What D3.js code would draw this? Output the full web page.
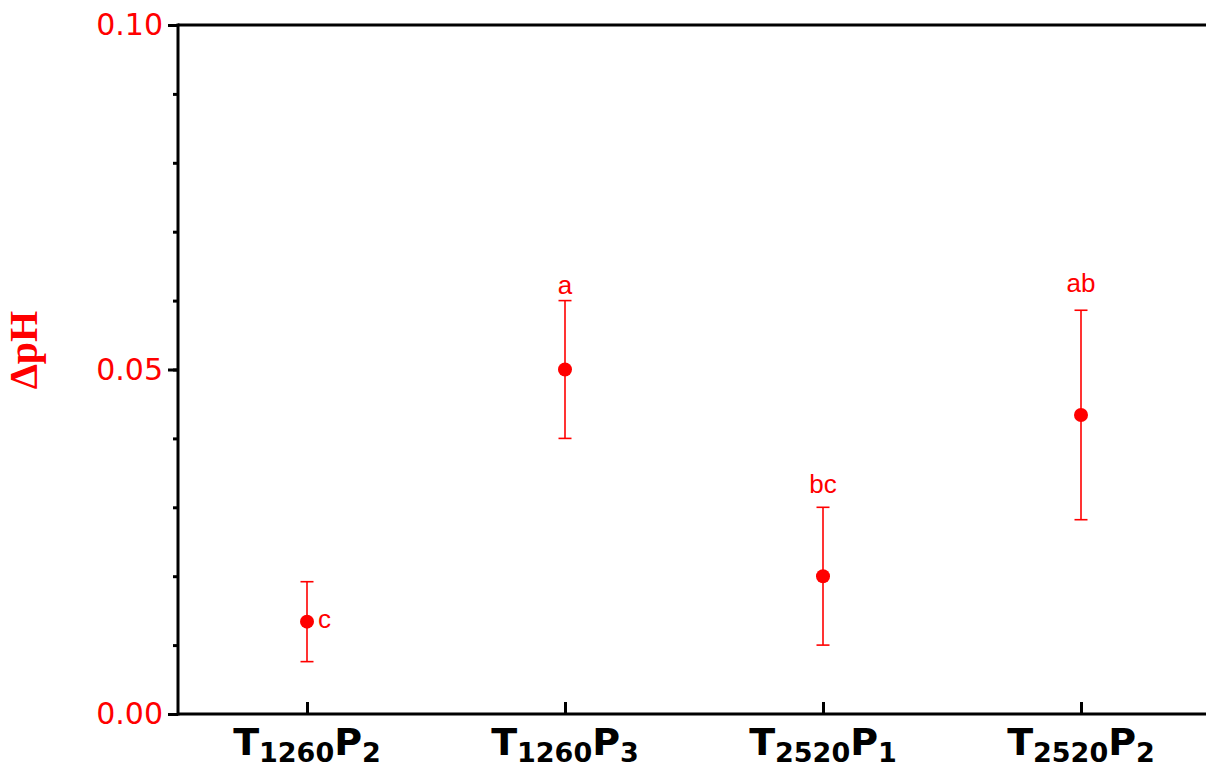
<!DOCTYPE html>
<html><head><meta charset="utf-8">
<script src="https://cdn.jsdelivr.net/npm/d3@7"></script>
<style>body{margin:0;background:#fff}svg{display:block}</style>
</head><body>
<svg id="chart" width="1206" height="767"></svg>
<script>
const categories = [
  {T:"T", s1:"1260", P:"P", s2:"2"},
  {T:"T", s1:"1260", P:"P", s2:"3"},
  {T:"T", s1:"2520", P:"P", s2:"1"},
  {T:"T", s1:"2520", P:"P", s2:"2"}
];
const means = [0.0134, 0.0500, 0.0200, 0.0434];
const errors = [0.0058, 0.0100, 0.0100, 0.0152];
const letters = ["c", "a", "bc", "ab"];
const yTicks = [0, 0.05, 0.10];
const yMinorTicks = d3.range(0, 0.1001, 0.01);

(function(){
const svg = d3.select("#chart");
const pL = 178, pT = 25, pB = 714, pR = 1210;
const red = "#ff0000";

const x = d3.scalePoint().domain(d3.range(categories.length)).range([pL, pR]).padding(0.5);
const y = d3.scaleLinear().domain([0, 0.10]).range([pB, pT]);

// minor ticks
svg.append("g").attr("transform", `translate(${pL},0)`)
  .call(d3.axisLeft(y).tickValues(yMinorTicks).tickSize(5).tickFormat(""))
  .call(g => g.select(".domain").remove())
  .call(g => g.selectAll("line").attr("stroke", "#000").attr("stroke-width", 3));

// major ticks
svg.append("g").attr("transform", `translate(${pL},0)`)
  .call(d3.axisLeft(y).tickValues(yTicks).tickSize(10).tickPadding(5).tickFormat(d3.format(".2f")))
  .call(g => g.select(".domain").attr("stroke", "#000").attr("stroke-width", 3).attr("d", `M0,${pB+1.5}V${pT-1.5}`))
  .call(g => g.selectAll("line").attr("stroke", "#000").attr("stroke-width", 3))
  .call(g => g.selectAll("text").attr("fill", red).attr("font-family", "DejaVu Sans").attr("font-size", 30));

// top line
svg.append("line").attr("x1", pL).attr("x2", 1206).attr("y1", pT).attr("y2", pT)
  .attr("stroke", "#000").attr("stroke-width", 3);

// x axis
const xg = svg.append("g").attr("transform", `translate(0,${pB})`)
  .call(d3.axisBottom(x).tickSize(-12).tickFormat(""));
xg.select(".domain").attr("stroke", "#000").attr("stroke-width", 3).attr("d", `M${pL},0H1206`);
xg.selectAll("line").attr("stroke", "#000").attr("stroke-width", 3);

// x labels with subscripts
categories.forEach((c, i) => {
  const t = svg.append("text")
    .attr("x", x(i)).attr("y", 755)
    .attr("text-anchor", "middle")
    .attr("font-family", "DejaVu Sans").attr("font-weight", "bold").attr("font-size", 38)
    .attr("fill", "#000");
  t.append("tspan").text(c.T);
  t.append("tspan").attr("font-size", 27).attr("dy", 7).text(c.s1);
  t.append("tspan").attr("dy", -7).text(c.P);
  t.append("tspan").attr("font-size", 27).attr("dy", 7).text(c.s2);
});

// y title
svg.append("text")
  .attr("transform", `translate(37,350) rotate(-90)`)
  .attr("text-anchor", "middle")
  .attr("font-family", "Liberation Serif").attr("font-weight", "bold").attr("font-size", 40)
  .attr("fill", red).text("ΔpH");

// error bars
const eg = svg.append("g").attr("stroke", red).attr("stroke-width", 1.6);
means.forEach((m, i) => {
  const cx = x(i);
  eg.append("line").attr("x1", cx).attr("x2", cx).attr("y1", y(m + errors[i])).attr("y2", y(m - errors[i]));
  eg.append("line").attr("x1", cx - 6.5).attr("x2", cx + 6.5).attr("y1", y(m + errors[i])).attr("y2", y(m + errors[i]));
  eg.append("line").attr("x1", cx - 6.5).attr("x2", cx + 6.5).attr("y1", y(m - errors[i])).attr("y2", y(m - errors[i]));
});

svg.append("g").selectAll("circle").data(means).join("circle")
  .attr("cx", (d, i) => x(i)).attr("cy", d => y(d)).attr("r", 7).attr("fill", red);

// significance letters (pixel offsets from the anchor)
const dyOff = [6, -7, -14, -18];
svg.append("g").selectAll("text").data(letters).join("text")
  .attr("x", (d, i) => i === 0 ? x(i) + 11 : x(i))
  .attr("y", (d, i) => (i === 0 ? y(means[i]) : y(means[i] + errors[i])) + dyOff[i])
  .attr("text-anchor", (d, i) => i === 0 ? "start" : "middle")
  .attr("font-family", "Liberation Sans").attr("font-size", 26)
  .attr("fill", red).text(d => d);
})();
</script>
</body></html>
